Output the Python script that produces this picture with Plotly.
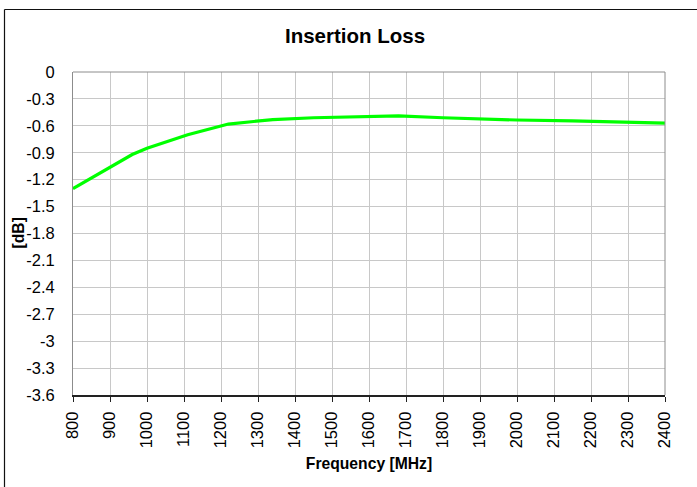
import plotly.graph_objects as go

# Data
freq_mhz = [800, 960, 1000, 1110, 1220, 1340, 1450, 1560, 1680, 1800, 1900, 2000, 2150, 2400]
insertion_loss_db = [-1.30, -0.92, -0.85, -0.70, -0.58, -0.53, -0.51, -0.50, -0.49, -0.51, -0.525, -0.535, -0.545, -0.57]

x_ticks = list(range(800, 2401, 100))
y_ticks = [0, -0.3, -0.6, -0.9, -1.2, -1.5, -1.8, -2.1, -2.4, -2.7, -3, -3.3, -3.6]
y_tick_text = ["0", "-0.3", "-0.6", "-0.9", "-1.2", "-1.5", "-1.8", "-2.1", "-2.4", "-2.7", "-3", "-3.3", "-3.6"]

FONT = "Liberation Sans, Arial, sans-serif"

fig = go.Figure()
fig.add_trace(go.Scatter(
    x=freq_mhz, y=insertion_loss_db, mode="lines",
    line=dict(color="#00ff00", width=3.2),
    showlegend=False, hoverinfo="x+y",
))

W, H = 697, 487
ml, mr, mt, mb = 73, 32, 72, 92
pw, ph = W - ml - mr, H - mt - mb

fig.update_layout(
    width=W, height=H,
    margin=dict(l=ml, r=mr, t=mt, b=mb, pad=0),
    paper_bgcolor="white", plot_bgcolor="white",
    font=dict(family=FONT, size=16, color="black"),
    title=dict(text="<b>Insertion Loss</b>", font=dict(size=20.5, family=FONT, color="black"),
               x=355 / W, xref="container", xanchor="center",
               y=1 - 36 / H, yref="container", yanchor="middle"),
    xaxis=dict(
        range=[800, 2400], tickvals=x_ticks, ticktext=[str(v) for v in x_ticks],
        tickangle=-90, ticks="outside", ticklen=5, tickwidth=1, tickcolor="#222222",
        showline=True, linecolor="#222222", linewidth=2,
        showgrid=True, gridcolor="#c8c8c8", gridwidth=1,
        zeroline=False, mirror=False,
        tickfont=dict(size=16.5, family=FONT),
        ticklabelstandoff=3,
        title=dict(text="<b>Frequency [MHz]</b>", font=dict(size=15.7, family=FONT), standoff=11),
        automargin=False,
    ),
    yaxis=dict(
        range=[-3.6, 0], tickvals=y_ticks, ticktext=y_tick_text,
        ticks="", showline=True, linecolor="#8c8c8c", linewidth=1,
        showgrid=True, gridcolor="#c8c8c8", gridwidth=1,
        zeroline=False,
        tickfont=dict(size=16.5, family=FONT),
        ticklabelstandoff=14,
        automargin=False,
    ),
)

# y-axis title placed precisely
fig.add_annotation(text="<b>[dB]</b>", xref="paper", yref="paper",
                   x=(18 - ml) / pw, y=0.5, xanchor="center", yanchor="middle",
                   textangle=-90, showarrow=False, font=dict(size=15.7, family=FONT, color="black"))

# plot-area frame (top/right) in gray
fig.add_shape(type="line", xref="paper", yref="paper", x0=0, x1=1, y0=1, y1=1,
              line=dict(color="#8c8c8c", width=1))
fig.add_shape(type="line", xref="paper", yref="paper", x0=1, x1=1, y0=0, y1=1,
              line=dict(color="#8c8c8c", width=1))

# outer chart border (left and top edges visible in the window)
bx = (4.5 - ml) / pw
by = 1 + (mt - 9.5) / ph
fig.add_shape(type="line", xref="paper", yref="paper", x0=bx, x1=1.3, y0=by, y1=by,
              line=dict(color="#111111", width=1.2))
fig.add_shape(type="line", xref="paper", yref="paper", x0=bx, x1=bx, y0=by, y1=-0.5,
              line=dict(color="#111111", width=1.2))

fig.write_html(
    "out.html",
    config={"displayModeBar": False},
    post_script="document.body.style.margin='0';document.body.style.overflow='hidden';",
)
